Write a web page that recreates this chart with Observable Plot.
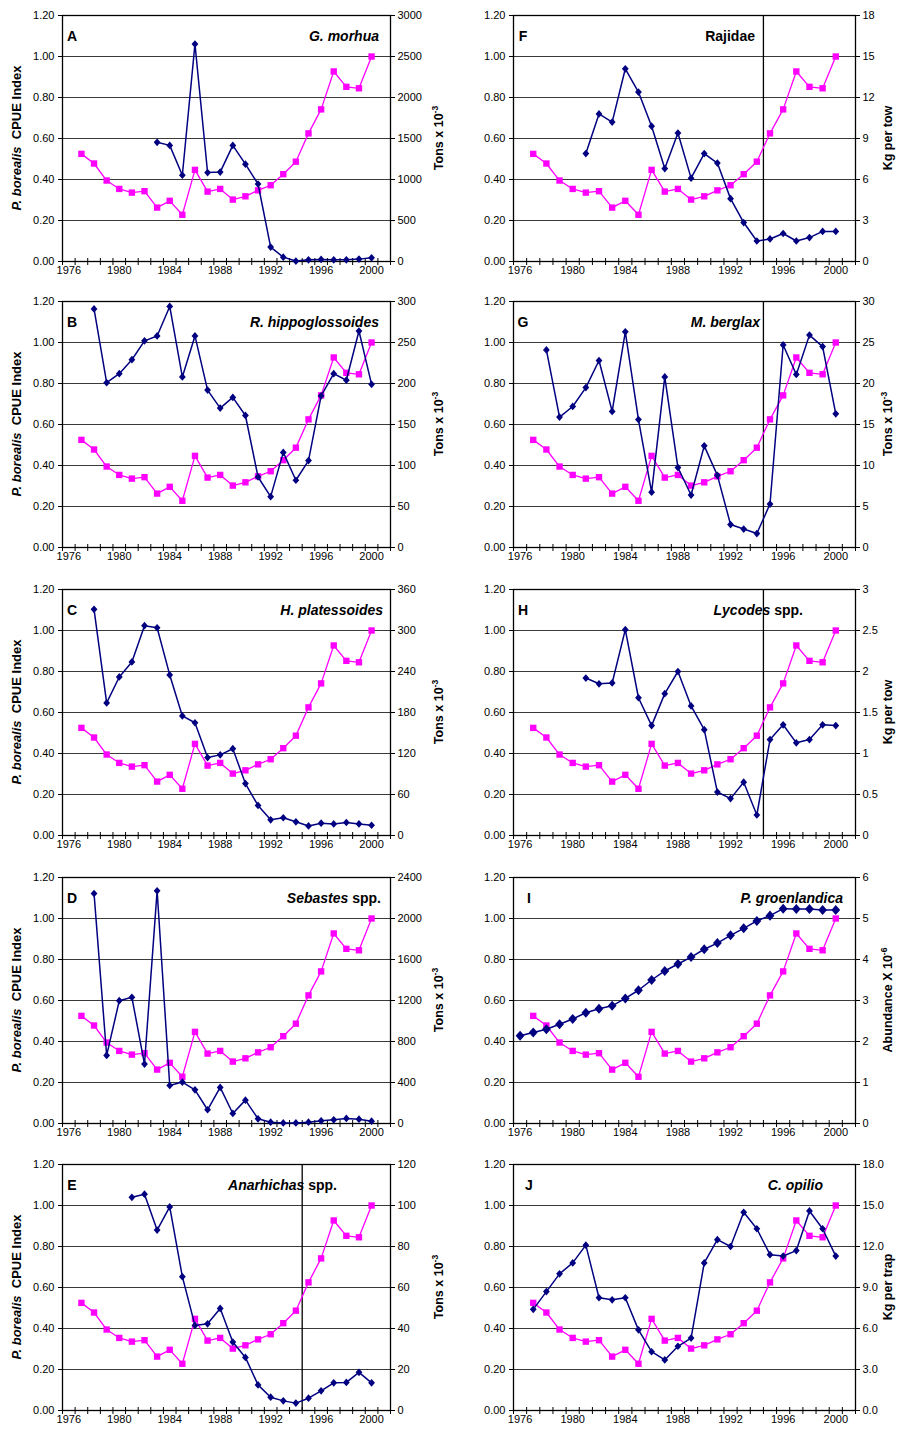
<!DOCTYPE html>
<html>
<head>
<meta charset="utf-8">
<script src="https://cdn.jsdelivr.net/npm/d3@7"></script>
<script src="https://cdn.jsdelivr.net/npm/@observablehq/plot@0.6"></script>
<style>
  html, body { margin: 0; padding: 0; background: #fff; }
  #root { position: relative; width: 897px; height: 1435px; overflow: hidden; }
  #root svg { position: absolute; background: transparent; overflow: visible; }
</style>
</head>
<body>
<div id="root"></div>
<script>
// ---------- Data ----------
const shrimpYears = [1977,1978,1979,1980,1981,1982,1983,1984,1985,1986,1987,1988,1989,1990,1991,1992,1993,1994,1995,1996,1997,1998,1999,2000];
const shrimpIndex = [0.525,0.478,0.395,0.354,0.336,0.343,0.263,0.296,0.228,0.447,0.341,0.354,0.302,0.318,0.347,0.372,0.426,0.487,0.625,0.742,0.927,0.852,0.845,1.000];

const morhuaYears = [1983,1984,1985,1986,1987,1988,1989,1990,1991,1992,1993,1994,1995,1996,1997,1998,1999,2000];
const morhuaTons  = [1453,1416,1052,2652,1085,1090,1416,1187,945,176,53,5,20,25,20,20,29,45];

const hippoYears = [1978,1979,1980,1981,1982,1983,1984,1985,1986,1987,1988,1989,1990,1991,1992,1993,1994,1995,1996,1997,1998,1999,2000];
const hippoTons  = [291,201,212,229,252,258,294,208,258,192,170,183,161,86,62,116,82,106,185,212,204,264,199];

const platYears = [1978,1979,1980,1981,1982,1983,1984,1985,1986,1987,1988,1989,1990,1991,1992,1993,1994,1995,1996,1997,1998,1999,2000];
const platTons  = [331,194,232,254,307,304,235,175,165,114,118,127,76,44,23,26,20,14,18,17,19,17,15];

const sebYears = [1978,1979,1980,1981,1982,1983,1984,1985,1986,1987,1988,1989,1990,1991,1992,1993,1994,1995,1996,1997,1998,1999,2000];
const sebTons  = [2244,664,1198,1231,580,2270,371,404,329,134,352,98,228,46,13,6,6,13,26,36,49,42,23];

const anarYears = [1981,1982,1983,1984,1985,1986,1987,1988,1989,1990,1991,1992,1993,1994,1995,1996,1997,1998,1999,2000];
const anarTons  = [104,105.5,88,99.3,65.3,41.5,42.3,49.8,33.4,25.9,12.5,6.5,4.7,3.6,6.0,9.6,13.5,13.7,18.6,13.5];

const rajYears = [1981,1982,1983,1984,1985,1986,1987,1988,1989,1990,1991,1992,1993,1994,1995,1996,1997,1998,1999,2000];
const rajKg    = [7.9,10.8,10.2,14.1,12.4,9.9,6.8,9.4,6.1,7.9,7.2,4.6,2.85,1.5,1.65,2.05,1.5,1.75,2.2,2.2];

const bergYears = [1978,1979,1980,1981,1982,1983,1984,1985,1986,1987,1988,1989,1990,1991,1992,1993,1994,1995,1996,1997,1998,1999,2000];
const bergTons  = [24.1,15.9,17.2,19.5,22.8,16.6,26.3,15.6,6.75,20.8,9.75,6.4,12.4,8.8,2.8,2.25,1.7,5.3,24.7,21.1,25.9,24.5,16.3];

const lycYears = [1981,1982,1983,1984,1985,1986,1987,1988,1989,1990,1991,1992,1993,1994,1995,1996,1997,1998,1999,2000];
const lycKg    = [1.92,1.85,1.86,2.51,1.68,1.34,1.73,2.0,1.58,1.29,0.53,0.45,0.65,0.25,1.17,1.35,1.13,1.17,1.35,1.34];

const groenYears = [1976,1977,1978,1979,1980,1981,1982,1983,1984,1985,1986,1987,1988,1989,1990,1991,1992,1993,1994,1995,1996,1997,1998,1999,2000];
const groenAbund = [2.14,2.22,2.30,2.42,2.55,2.70,2.80,2.87,3.05,3.25,3.50,3.72,3.89,4.06,4.25,4.40,4.59,4.76,4.94,5.07,5.24,5.23,5.23,5.21,5.21];

const opilioYears = [1977,1978,1979,1980,1981,1982,1983,1984,1985,1986,1987,1988,1989,1990,1991,1992,1993,1994,1995,1996,1997,1998,1999,2000];
const opilioKg    = [7.4,8.7,10.0,10.8,12.1,8.25,8.1,8.25,5.9,4.3,3.7,4.7,5.3,10.8,12.5,12.0,14.5,13.3,11.4,11.3,11.7,14.6,13.3,11.3];

// Axis tick labels
const leftTicks = [0, 0.2, 0.4, 0.6, 0.8, 1.0, 1.2];
const yearLabels = [1976, 1980, 1984, 1988, 1992, 1996, 2000];
const yearBounds = [1975.5,1976.5,1977.5,1978.5,1979.5,1980.5,1981.5,1982.5,1983.5,1984.5,1985.5,1986.5,1987.5,1988.5,1989.5,1990.5,1991.5,1992.5,1993.5,1994.5,1995.5,1996.5,1997.5,1998.5,1999.5,2000.5,2001.5];
const surveyChange = [1994.5];

const ticksA = [0,500,1000,1500,2000,2500,3000];
const ticksB = [0,50,100,150,200,250,300];
const ticksC = [0,60,120,180,240,300,360];
const ticksD = [0,400,800,1200,1600,2000,2400];
const ticksE = [0,20,40,60,80,100,120];
const ticksF = [0,3,6,9,12,15,18];
const ticksG = [0,5,10,15,20,25,30];
const ticksH = [0,0.5,1,1.5,2,2.5,3];
const ticksI = [0,1,2,3,4,5,6];
const ticksJ = [0,3,6,9,12,15,18];

const yLeftLabel = [["P. borealis", true], ["\u00a0 CPUE Index", false]];

// ---------- Panels ----------
const panels = [
  {letter:"A", name:[["G. morhua",true]], years:morhuaYears, values:morhuaTons, ticks:ticksA, fmt:d3.format("d"), title:["Tons x 10","-3"], col:0, row:0, vline:false, nameInset:11},
  {letter:"B", name:[["R. hippoglossoides",true]], years:hippoYears, values:hippoTons, ticks:ticksB, fmt:d3.format("d"), title:["Tons x 10","-3"], col:0, row:1, vline:false, nameInset:11},
  {letter:"C", name:[["H. platessoides",true]], years:platYears, values:platTons, ticks:ticksC, fmt:d3.format("d"), title:["Tons x 10","-3"], col:0, row:2, vline:false, nameInset:7},
  {letter:"D", name:[["Sebastes",true],[" spp.",false]], years:sebYears, values:sebTons, ticks:ticksD, fmt:d3.format("d"), title:["Tons x 10","-3"], col:0, row:3, vline:false, nameInset:9},
  {letter:"E", name:[["Anarhichas",true],[" spp.",false]], years:anarYears, values:anarTons, ticks:ticksE, fmt:d3.format("d"), title:["Tons x 10","-3"], col:0, row:4, vline:true, nameInset:53},
  {letter:"F", name:[["Rajidae",false]], years:rajYears, values:rajKg, ticks:ticksF, fmt:d3.format("d"), title:["Kg per tow",""], col:1, row:0, vline:true, nameInset:100},
  {letter:"G", name:[["M. berglax",true]], years:bergYears, values:bergTons, ticks:ticksG, fmt:d3.format("d"), title:["Tons x 10","-3"], col:1, row:1, vline:true, nameInset:95},
  {letter:"H", name:[["Lycodes",true],[" spp.",false]], years:lycYears, values:lycKg, ticks:ticksH, fmt:d3.format("~g"), title:["Kg per tow",""], col:1, row:2, vline:true, nameInset:52},
  {letter:"I", name:[["P. groenlandica",true]], years:groenYears, values:groenAbund, ticks:ticksI, fmt:d3.format("d"), title:["Abundance X 10","-6"], col:1, row:3, vline:false, nameInset:12, big:true, letterInset:16},
  {letter:"J", name:[["C. opilio",true]], years:opilioYears, values:opilioKg, ticks:ticksJ, fmt:d3.format(".1f"), title:["Kg per trap",""], col:1, row:4, vline:false, nameInset:32, letterInset:16}
];

const NAVY = "#000080";
const MAGENTA = "#ff00ff";
const FONT = 'Arial, "Liberation Sans", Helvetica, sans-serif';
const rowTops = [0, 286, 574, 862, 1149];
const mt = 15, plotH = 246, mb = 27;

const diamond = {
  draw(ctx, size) {
    const h = Math.sqrt(size / 2);
    ctx.moveTo(0, -h * 1.08); ctx.lineTo(h * 0.95, 0); ctx.lineTo(0, h * 1.08); ctx.lineTo(-h * 0.95, 0); ctx.closePath();
  }
};

const root = document.getElementById("root");
const fmtLeft = d3.format(".2f");

for (const p of panels) {
  const ymax = p.ticks[p.ticks.length - 1];
  const k = 1.2 / ymax;
  const scaledTicks = p.ticks.map(t => t * k);
  const labelFor = d => {
    const i = scaledTicks.findIndex(t => Math.abs(t - d) < 1e-9);
    return i >= 0 ? p.fmt(p.ticks[i]) : "";
  };
  const shrimp = shrimpYears.map((y, i) => ({year: y, v: shrimpIndex[i]}));
  const other = p.years.map((y, i) => ({year: y, v: p.values[i]}));

  const ml = p.col === 0 ? 62 : 63;
  const width = p.col === 0 ? 450 : 447;
  const mr = p.col === 0 ? 60 : 42;
  const height = mt + plotH + mb;

  const marks = [
    Plot.ruleY([0.2, 0.4, 0.6, 0.8, 1.0], {stroke: "#3a3a3a", strokeWidth: 1}),
    p.vline ? Plot.ruleX(surveyChange, {stroke: "#000", strokeWidth: 1.3}) : null,
    Plot.frame({stroke: "#000", strokeWidth: 1.3}),
    Plot.ruleX(yearBounds, {y1: 0, y2: 0, insetTop: -3, insetBottom: -4, stroke: "#000", strokeWidth: 1}),
    Plot.axisY(leftTicks, {anchor: "left", tickSize: 4, tickPadding: 4, tickFormat: fmtLeft, label: null, fontSize: 11}),
    Plot.axisY(scaledTicks, {anchor: "right", tickSize: 4, tickPadding: 3, tickFormat: labelFor, label: null, fontSize: 11}),
    Plot.axisX(yearLabels, {anchor: "bottom", tickSize: 0, tickPadding: 5, tickFormat: d3.format("d"), label: null, fontSize: 11}),
    Plot.line(shrimp, {x: "year", y: "v", stroke: MAGENTA, strokeWidth: 1.3}),
    Plot.dot(shrimp, {x: "year", y: "v", symbol: "square", r: 3.6, fill: MAGENTA}),
    Plot.line(other, {x: "year", y: d => d.v * k, stroke: NAVY, strokeWidth: 1.5}),
    Plot.dot(other, {x: "year", y: d => d.v * k, symbol: diamond, r: p.big ? 3.7 : 2.85, fill: NAVY})
  ].filter(Boolean);

  const svg = Plot.plot({
    width, height,
    marginTop: mt, marginBottom: mb, marginLeft: ml, marginRight: mr,
    x: {domain: [1975.5, 2001.5]},
    y: {domain: [0, 1.2]},
    style: {fontFamily: FONT, fontSize: "11px", color: "#000", background: "transparent", overflow: "visible"},
    marks
  });
  svg.style.left = (p.col === 0 ? 0 : 450) + "px";
  svg.style.top = rowTops[p.row] + "px";
  root.appendChild(svg);

  const s = d3.select(svg);
  const plotRight = width - mr;
  const midY = mt + plotH / 2;

  // panel letter
  s.append("text")
    .attr("x", ml + (p.letterInset || 10)).attr("y", mt + 21)
    .attr("dy", "0.36em")
    .attr("font-family", FONT).attr("font-size", 14).attr("font-weight", "bold").attr("fill", "#000")
    .text(p.letter);

  // species name
  const nm = s.append("text")
    .attr("x", plotRight - p.nameInset).attr("y", mt + 21)
    .attr("dy", "0.36em").attr("text-anchor", "end")
    .attr("font-family", FONT).attr("font-size", 14).attr("font-weight", "bold").attr("fill", "#000");
  for (const [t, it] of p.name) {
    nm.append("tspan").attr("font-style", it ? "italic" : "normal").text(t);
  }

  // right title
  const rx = p.col === 0 ? 438 : 437;
  const rt = s.append("text")
    .attr("transform", `translate(${rx},${midY}) rotate(-90)`)
    .attr("text-anchor", "middle").attr("dy", "0.36em")
    .attr("font-family", FONT).attr("font-size", 12.5).attr("font-weight", "bold").attr("fill", "#000");
  rt.append("tspan").text(p.title[0]);
  if (p.title[1]) {
    rt.append("tspan").attr("dy", "-0.55em").attr("font-size", 8.5).text(p.title[1]);
  }

  // left title (left column only)
  if (p.col === 0) {
    const lt = s.append("text")
      .attr("transform", `translate(16,${midY}) rotate(-90)`)
      .attr("text-anchor", "middle").attr("dy", "0.36em")
      .attr("font-family", FONT).attr("font-size", 13).attr("font-weight", "bold").attr("fill", "#000");
    for (const [t, it] of yLeftLabel) {
      lt.append("tspan").attr("font-style", it ? "italic" : "normal").text(t);
    }
  }
}
</script>
</body>
</html>
